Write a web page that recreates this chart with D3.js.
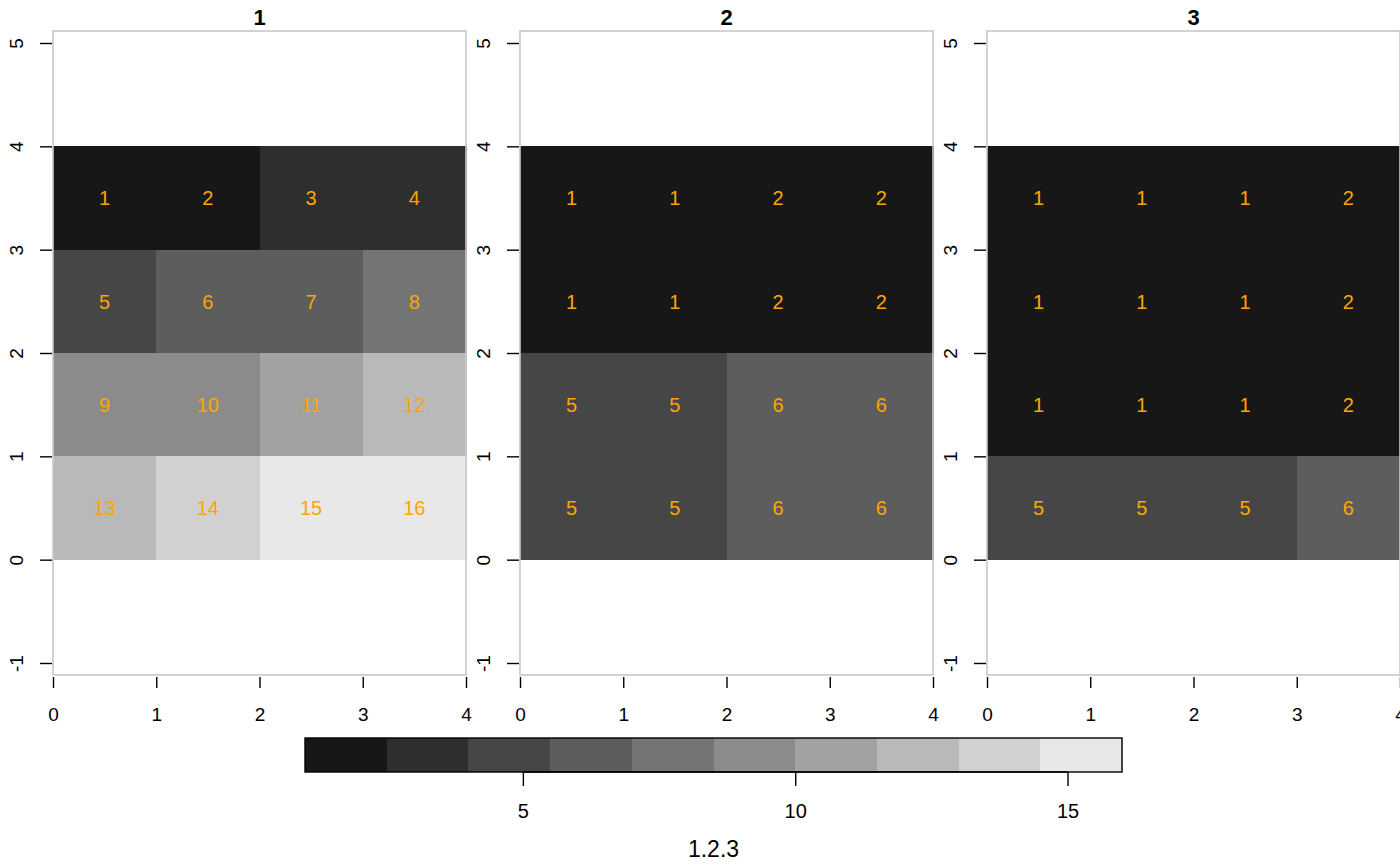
<!DOCTYPE html>
<html>
<head>
<meta charset="utf-8">
<script src="https://cdn.jsdelivr.net/npm/d3@7"></script>
<style>
  html, body { margin: 0; padding: 0; background: #fff; }
  svg { display: block; font-family: "Liberation Sans", Arial, Helvetica, sans-serif; }
</style>
</head>
<body>
<svg id="chart" width="1400" height="865"></svg>
<script>
// ---- data ----
const panelTitles = ["1", "2", "3"];
// rows listed from top (y 3..4) to bottom (y 0..1), columns x 0..4
const values1 = [[1, 2, 3, 4], [5, 6, 7, 8], [9, 10, 11, 12], [13, 14, 15, 16]];
const values2 = [[1, 1, 2, 2], [1, 1, 2, 2], [5, 5, 6, 6], [5, 5, 6, 6]];
const values3 = [[1, 1, 1, 2], [1, 1, 1, 2], [1, 1, 1, 2], [5, 5, 5, 6]];
const panelValues = [values1, values2, values3];
const breaks = [1, 2.5, 4, 5.5, 7, 8.5, 10, 11.5, 13, 14.5, 16];
const greys = ["#171717", "#2e2e2e", "#464646", "#5d5d5d", "#747474",
               "#8b8b8b", "#a2a2a2", "#b9b9b9", "#d1d1d1", "#e8e8e8"];
const xTicks = [0, 1, 2, 3, 4];
const yTicks = [-1, 0, 1, 2, 3, 4, 5];
const legendTicks = [5, 10, 15];
const legendTitle = "1.2.3";

// ---- layout ----
const svg = d3.select("#chart");
const panelLefts = [53, 520, 987];
const panelW = 413;
const boxTop = 31, boxBottom = 675;

// right-closed intervals (a, b], lowest break included
function color(v) {
  const i = Math.max(0, d3.bisectLeft(breaks, v) - 1);
  return greys[Math.min(i, greys.length - 1)];
}
const y = d3.scaleLinear().domain([-1, 5]).range([663, 43]);
const fmt = d => String(d);

panelValues.forEach((vals, p) => {
  const left = panelLefts[p];
  const x = d3.scaleLinear().domain([0, 4]).range([left, left + panelW]);
  const g = svg.append("g");

  const cells = [];
  vals.forEach((row, r) => row.forEach((v, c) => cells.push({ col: c, row: 3 - r, v })));

  g.selectAll("rect.cell").data(cells).join("rect")
    .attr("class", "cell")
    .attr("x", d => x(d.col))
    .attr("y", d => y(d.row + 1))
    .attr("width", d => x(d.col + 1) - x(d.col) + 0.5)
    .attr("height", d => y(d.row) - y(d.row + 1) + 0.5)
    .attr("fill", d => color(d.v))
    .attr("shape-rendering", "crispEdges");

  g.selectAll("text.lab").data(cells).join("text")
    .attr("class", "lab")
    .attr("x", d => x(d.col + 0.5))
    .attr("y", d => y(d.row + 0.5))
    .attr("dy", "0.36em")
    .attr("text-anchor", "middle")
    .attr("fill", "#FFA500")
    .attr("font-size", 20)
    .text(d => d.v);

  // frame
  g.append("rect")
    .attr("x", left).attr("y", boxTop)
    .attr("width", panelW).attr("height", boxBottom - boxTop)
    .attr("fill", "none").attr("stroke", "#c8c8c8").attr("stroke-width", 1.6);

  // title
  g.append("text")
    .attr("x", left + panelW / 2).attr("y", 25)
    .attr("text-anchor", "middle")
    .attr("font-weight", "bold").attr("font-size", 22)
    .text(panelTitles[p]);

  // x axis
  const xa = g.append("g").attr("transform", `translate(0,${boxBottom + 2})`)
    .call(d3.axisBottom(x).tickValues(xTicks).tickFormat(fmt).tickSize(11).tickPadding(20));
  xa.select(".domain").remove();
  xa.selectAll(".tick line").attr("stroke", "#000").attr("stroke-width", 1.4);
  xa.selectAll(".tick text").attr("font-size", 19).attr("fill", "#000").attr("font-family", null);

  // y axis
  const ya = g.append("g").attr("transform", `translate(${left - 1},0)`)
    .call(d3.axisLeft(y).tickValues(yTicks).tickFormat(fmt).tickSize(12).tickPadding(0));
  ya.select(".domain").remove();
  ya.selectAll(".tick line").attr("stroke", "#000").attr("stroke-width", 1.4);
  ya.selectAll(".tick text")
    .attr("font-size", 19).attr("fill", "#000").attr("font-family", null)
    .attr("x", null)
    .attr("text-anchor", "middle")
    .attr("transform", "translate(-36,0) rotate(-90)")
    .attr("y", 0)
    .attr("dy", "0.36em");
});

// ---- colour key ----
const lx = d3.scaleLinear().domain([breaks[0], breaks[breaks.length - 1]]).range([305, 1122]);
const keyTop = 738, keyBottom = 772;
const kg = svg.append("g");
kg.selectAll("rect.bin").data(greys).join("rect")
  .attr("class", "bin")
  .attr("x", (d, i) => lx(breaks[i]))
  .attr("y", keyTop)
  .attr("width", (d, i) => lx(breaks[i + 1]) - lx(breaks[i]) + 0.5)
  .attr("height", keyBottom - keyTop)
  .attr("fill", d => d)
  .attr("shape-rendering", "crispEdges");
kg.append("rect")
  .attr("x", lx(breaks[0])).attr("y", keyTop)
  .attr("width", lx(breaks[breaks.length - 1]) - lx(breaks[0]))
  .attr("height", keyBottom - keyTop)
  .attr("fill", "none").attr("stroke", "#000").attr("stroke-width", 1.4);

const ka = kg.append("g").attr("transform", `translate(0,${keyBottom})`)
  .call(d3.axisBottom(lx).tickValues(legendTicks).tickFormat(fmt).tickSize(14).tickPadding(18));
ka.select(".domain").attr("d", `M${lx(legendTicks[0])},0H${lx(legendTicks[legendTicks.length - 1])}`)
  .attr("stroke", "#000").attr("stroke-width", 1.4);
ka.selectAll(".tick line").attr("stroke", "#000").attr("stroke-width", 1.4);
ka.selectAll(".tick text").attr("font-size", 20).attr("fill", "#000").attr("font-family", null);

kg.append("text")
  .attr("x", (lx(breaks[0]) + lx(breaks[breaks.length - 1])) / 2)
  .attr("y", 857)
  .attr("text-anchor", "middle")
  .attr("font-size", 23)
  .text(legendTitle);
</script>
</body>
</html>
